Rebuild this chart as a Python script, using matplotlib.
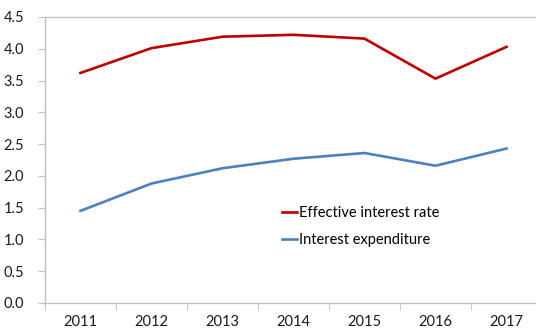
import matplotlib
matplotlib.use('Agg')
import matplotlib.pyplot as plt
from matplotlib.ticker import FixedLocator

years = [2011, 2012, 2013, 2014, 2015, 2016, 2017]
effective_rate = [3.62, 4.01, 4.19, 4.22, 4.16, 3.53, 4.03]
interest_exp = [1.45, 1.88, 2.12, 2.27, 2.36, 2.16, 2.43]
labels = ['Effective interest rate', 'Interest expenditure']

plt.rcParams['font.family'] = ['Lato', 'DejaVu Sans']

fig = plt.figure(figsize=(5.36, 3.31), dpi=100)
# plot area runs slightly past the right edge of the canvas
ax = fig.add_axes([45 / 536, 28 / 331, 497 / 536, 286 / 331])

x = list(range(len(years)))
ax.plot(x, effective_rate, color='#C00000', lw=1.9, label=labels[0])
ax.plot(x, interest_exp, color='#4F81BD', lw=1.9, label=labels[1])

ax.set_xlim(-0.5, len(years) - 0.5)
ax.set_ylim(0, 4.5)
ax.set_yticks([i * 0.5 for i in range(10)])
ax.set_yticklabels(['%.1f' % (i * 0.5) for i in range(10)])
ax.set_xticks(x)
ax.set_xticklabels([str(y) for y in years])
ax.xaxis.set_minor_locator(FixedLocator([i + 0.5 for i in range(-1, len(years))]))
ax.tick_params(axis='x', which='major', length=0, pad=9, labelsize=10.5, colors='#1a1a1a')
ax.tick_params(axis='x', which='minor', length=5, color='#BFBFBF', direction='out')
ax.tick_params(axis='y', length=5, color='#BFBFBF', pad=10, labelsize=10.5, colors='#1a1a1a')
ax.tick_params(axis='y', color='#BFBFBF')

for side in ['left', 'bottom', 'top']:
    ax.spines[side].set_color('#BFBFBF')
    ax.spines[side].set_linewidth(1.0)
ax.spines['right'].set_visible(False)

ax.legend(loc='upper left', bbox_to_anchor=(0.465, 0.36), frameon=False,
          handlelength=1.0, handletextpad=0.2, labelspacing=0.9, fontsize=10.5,
          borderaxespad=0)

fig.savefig('out.png', dpi=100)
